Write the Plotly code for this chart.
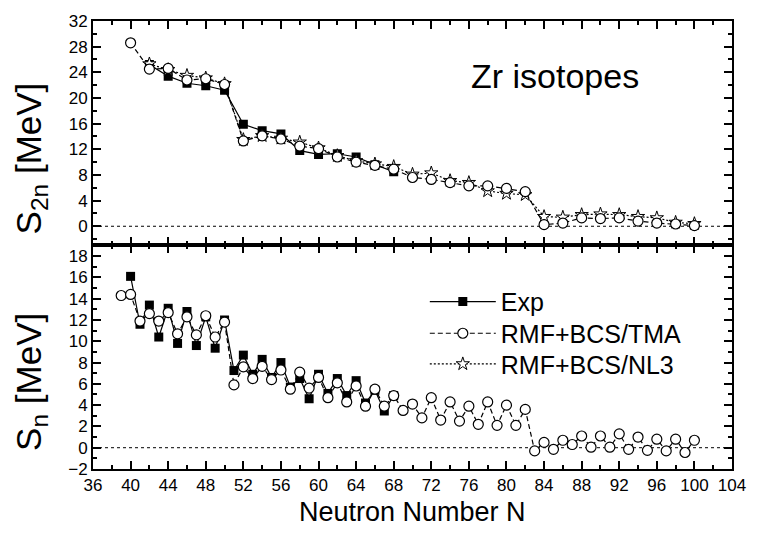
import plotly.graph_objects as go

# ---------------- data ----------------
# S2n panel (even N)
n_s2n_tma = list(range(40, 101, 2))
s2n_tma = [28.6, 24.5, 24.6, 22.8, 23.0, 22.1, 13.3, 14.1, 13.6, 12.5, 12.1, 10.8,
           10.0, 9.5, 8.9, 7.6, 7.3, 6.8, 6.3, 6.3, 5.9, 5.4, 0.25, 0.5, 1.3, 1.2,
           1.3, 0.8, 0.5, 0.35, 0.1]

n_s2n_nl3 = list(range(42, 101, 2))
s2n_nl3 = [25.3, 24.4, 23.5, 23.1, 22.2, 13.5, 14.1, 13.7, 13.1, 12.2, 11.0, 10.2,
           9.7, 9.3, 8.1, 8.3, 7.1, 6.8, 5.5, 5.1, 4.9, 1.5, 1.4, 1.8, 1.9, 1.8,
           1.5, 1.3, 0.6, 0.4]

n_s2n_exp = list(range(42, 69, 2))
s2n_exp = [25.2, 23.4, 22.3, 21.9, 21.2, 15.9, 14.9, 14.4, 11.8, 11.2, 11.3, 10.8,
           9.6, 8.5]

# Sn panel (all N)
n_sn_tma = list(range(39, 101))
sn_tma = [14.3, 14.4, 11.9, 12.6, 11.9, 12.7, 10.7, 12.3, 10.6, 12.4, 10.4, 11.8,
          5.9, 7.6, 6.5, 7.65, 6.4, 7.3, 5.5, 7.1, 5.6, 6.6, 4.7, 6.1, 4.3, 5.8,
          3.9, 5.5, 3.9, 4.9, 3.5, 4.1, 2.8, 4.7, 2.6, 4.3, 2.5, 3.9, 2.2, 4.3,
          2.1, 4.0, 2.1, 3.6, -0.3, 0.5, -0.15, 0.7, 0.3, 1.1, 0.05, 1.1, 0.05,
          1.3, -0.15, 1.0, -0.25, 0.8, -0.3, 0.8, -0.45, 0.7]

n_sn_exp = list(range(40, 69))
sn_exp = [16.1, 11.6, 13.4, 10.4, 13.1, 9.8, 12.8, 9.6, 12.3, 9.35, 12.0, 7.25,
          8.7, 6.9, 8.3, 6.6, 8.0, 5.7, 6.5, 4.6, 6.9, 5.1, 6.5, 4.9, 6.3, 4.2,
          5.4, 3.45, 4.9]

x_ticks = list(range(36, 105, 4))

FONT = "Liberation Sans, Arial, sans-serif"

exp_marker = dict(symbol="square", size=9, color="black")
tma_marker = dict(symbol="circle", size=10, color="white", line=dict(color="black", width=1.2))
nl3_marker = dict(symbol="star", size=10, color="white", line=dict(color="black", width=1))
exp_line = dict(color="black", width=1.2)
tma_line = dict(color="black", width=1.2, dash="5px,3px")
nl3_line = dict(color="black", width=1.2, dash="2px,2px")

fig = go.Figure()

# top panel
fig.add_trace(go.Scatter(x=n_s2n_exp, y=s2n_exp, mode="lines+markers", name="Exp",
                         marker=exp_marker, line=exp_line, xaxis="x2", yaxis="y2",
                         legend="legend"))
fig.add_trace(go.Scatter(x=n_s2n_nl3, y=s2n_nl3, mode="lines+markers", name="RMF+BCS/NL3",
                         marker=nl3_marker, line=nl3_line, xaxis="x2", yaxis="y2",
                         legend="legend3"))
fig.add_trace(go.Scatter(x=n_s2n_tma, y=s2n_tma, mode="lines+markers", name="RMF+BCS/TMA",
                         marker=tma_marker, line=tma_line, xaxis="x2", yaxis="y2",
                         legend="legend2"))
# bottom panel
fig.add_trace(go.Scatter(x=n_sn_exp, y=sn_exp, mode="lines+markers", name="Exp",
                         marker=exp_marker, line=exp_line, xaxis="x", yaxis="y",
                         showlegend=False))
fig.add_trace(go.Scatter(x=n_sn_tma, y=sn_tma, mode="lines+markers", name="RMF+BCS/TMA",
                         marker=tma_marker, line=tma_line, xaxis="x", yaxis="y",
                         showlegend=False))

PLOT_TOP, PLOT_BOTTOM, PLOT_LEFT, PLOT_RIGHT = 16, 469, 93, 742
PH = PLOT_BOTTOM - PLOT_TOP
PW = PLOT_RIGHT - PLOT_LEFT


def py(pix):
    return (PLOT_BOTTOM - pix) / PH


def px(pix):
    return (pix - PLOT_LEFT) / PW


split = py(243)

common_axis = dict(showline=True, linewidth=2, linecolor="black", mirror="allticks",
                   ticks="inside", tickwidth=1.5, tickcolor="black", showgrid=False,
                   zeroline=False, tickfont=dict(family=FONT, size=17, color="black"))

minor_x = dict(dtick=2, tick0=36, ticks="inside", ticklen=4, tickwidth=1.5, tickcolor="black")

legend_common = dict(xanchor="left", yanchor="middle", bgcolor="rgba(0,0,0,0)",
                     borderwidth=0, itemwidth=66,
                     font=dict(family=FONT, size=25, color="black"))

fig.update_layout(
    width=758, height=537,
    margin=dict(l=PLOT_LEFT, r=758 - PLOT_RIGHT, t=PLOT_TOP, b=537 - PLOT_BOTTOM),
    paper_bgcolor="white", plot_bgcolor="white",
    font=dict(family=FONT, color="black"),
    xaxis=dict(range=[36, 104], tickvals=x_ticks, ticklen=8, anchor="y",
               minor=minor_x, **common_axis),
    xaxis2=dict(range=[36, 104], tickvals=x_ticks, ticklen=8, anchor="y2", matches="x",
                showticklabels=False, minor=minor_x, **common_axis),
    yaxis=dict(domain=[0, split], range=[-2, 19], dtick=2, tick0=0, ticklen=8,
               anchor="x",
               minor=dict(dtick=1, tick0=0, ticks="inside", ticklen=4, tickwidth=1.5,
                          tickcolor="black"),
               **common_axis),
    yaxis2=dict(domain=[split, 1], range=[-3, 32], dtick=4, tick0=0, ticklen=8,
                anchor="x2",
                minor=dict(dtick=2, tick0=0, ticks="inside", ticklen=4, tickwidth=1.5,
                           tickcolor="black"),
                **common_axis),
    showlegend=True,
    legend=dict(x=px(430), y=py(300), **legend_common),
    legend2=dict(x=px(430), y=py(332), **legend_common),
    legend3=dict(x=px(430), y=py(363), **legend_common),
)

# dotted zero lines
fig.add_shape(type="line", xref="x2 domain", yref="y2", x0=0, x1=1, y0=0, y1=0,
              line=dict(color="black", width=1, dash="dot"), layer="below")
fig.add_shape(type="line", xref="x domain", yref="y", x0=0, x1=1, y0=0, y1=0,
              line=dict(color="black", width=1, dash="dot"), layer="below")

# annotations
fig.add_annotation(text="Zr isotopes", xref="paper", yref="paper",
                   x=px(562), y=py(72), xanchor="center", yanchor="middle",
                   showarrow=False, font=dict(family=FONT, size=34, color="black"))
fig.add_annotation(text="S<sub>2n</sub> [MeV]", xref="paper", yref="paper",
                   x=px(30), y=py(155), xanchor="center", yanchor="middle",
                   textangle=-90, showarrow=False,
                   font=dict(family=FONT, size=35, color="black"))
fig.add_annotation(text="S<sub>n</sub> [MeV]", xref="paper", yref="paper",
                   x=px(30), y=py(381), xanchor="center", yanchor="middle",
                   textangle=-90, showarrow=False,
                   font=dict(family=FONT, size=35, color="black"))
fig.add_annotation(text="Neutron Number N", xref="paper", yref="paper",
                   x=0.5, y=py(512), xanchor="center", yanchor="middle",
                   showarrow=False, font=dict(family=FONT, size=27, color="black"))

fig.write_html("out.html")
